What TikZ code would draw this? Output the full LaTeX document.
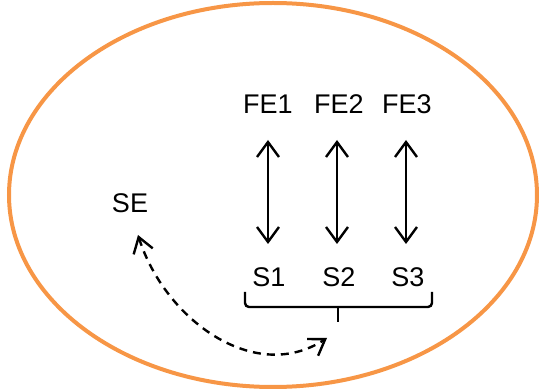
\documentclass[tikz,border=0pt]{standalone}
\usepackage{fontspec}
\setmainfont{Liberation Sans}
\usetikzlibrary{arrows.meta}
\definecolor{ringorange}{RGB}{247,150,70}
\begin{document}
\begin{tikzpicture}[x=1pt,y=-1pt,
  lbl/.style={font=\fontsize{27}{32}\selectfont, inner sep=0pt, anchor=center},
  link/.style={line width=2.4pt, {Straight Barb[length=15pt,width=22pt,line width=2.4pt]}-{Straight Barb[length=15pt,width=22pt,line width=2.4pt]}},
  dlink/.style={line width=2.4pt, dash pattern=on 8pt off 6pt, {Straight Barb[length=15pt,width=20pt,line width=2.4pt]}-{Straight Barb[length=15pt,width=20pt,line width=2.4pt]}}]
\useasboundingbox (0,0) rectangle (539,390);
\draw[ringorange, line width=4pt] (273,195) ellipse [x radius=264, y radius=192];
\node[lbl] (fe1) at (268,104) {FE1};
\node[lbl] (fe2) at (339,104) {FE2};
\node[lbl] (fe3) at (407,104) {FE3};
\node[lbl] (se) at (130,203) {SE};
\node[lbl] (s1) at (269,277) {S1};
\node[lbl] (s2) at (339,277) {S2};
\node[lbl] (s3) at (408,277) {S3};
\coordinate (t1) at (268,140); \coordinate (b1) at (268,244);
\coordinate (t2) at (337,140); \coordinate (b2) at (337,244);
\coordinate (t3) at (406,140); \coordinate (b3) at (406,244);
\draw[link] (t1) -- (b1);
\draw[link] (t2) -- (b2);
\draw[link] (t3) -- (b3);
% bracket
\coordinate (bl) at (245,292);
\coordinate (br) at (432,292);
\coordinate (bm) at (338,322);
\draw[line width=2.4pt, rounded corners=4pt] (bl) -- (245,307) -- (432,307) -- (br);
\draw[line width=2.4pt] (338,307) -- (bm);
% dashed
\coordinate (se1) at (138,235);
\coordinate (bk) at (327,338);
\draw[dlink] (se1) .. controls (165,320) and (255,385) .. (bk);
\end{tikzpicture}
\end{document}
